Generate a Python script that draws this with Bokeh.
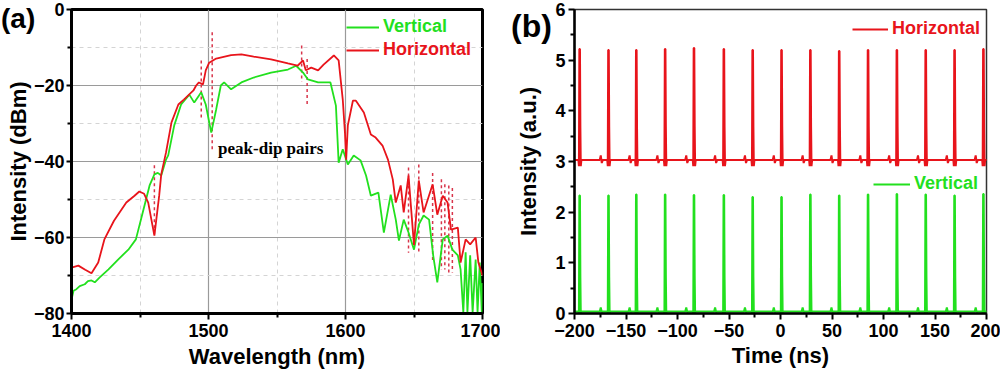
from bokeh.plotting import figure
from bokeh.layouts import row
from bokeh.models import FixedTicker, Label, Legend, LegendItem, Div
from bokeh.embed import file_html
from bokeh.resources import INLINE

RED = "#e8141b"
GREEN = "#22e01e"
MARK = "#d8344a"
FONT = "Liberation Sans"

# ---------------- panel (a) data: optical spectrum ----------------
wl_h = [1400, 1405, 1410, 1414.6, 1419.5, 1424, 1431, 1440, 1446, 1449.5, 1453, 1456, 1460.5, 1464,
        1465.5, 1469, 1473, 1478, 1482, 1489, 1491, 1493, 1496, 1498, 1500.5, 1505.6, 1516.5, 1524,
        1533, 1545.7, 1558, 1565, 1569, 1571, 1575, 1580, 1584, 1591.5, 1595, 1598, 1599.6, 1600.5,
        1601.7, 1605.4, 1607.6, 1613.4, 1618.5, 1622, 1627, 1631, 1634.5, 1636.7, 1640.3, 1642.5,
        1646, 1650, 1653.5, 1657, 1663.6, 1667, 1671, 1674.5, 1677, 1682, 1684, 1687.7, 1691, 1695,
        1697, 1700]
db_h = [-67.9, -67.4, -68.5, -69.4, -66.6, -60.5, -55.6, -50.8, -49, -47.9, -48.5, -50.8, -59.5, -49,
        -43.4, -37.6, -29.7, -25, -23.7, -21.3, -20, -19.2, -19.7, -16, -14, -12.9, -12, -11.8,
        -12.4, -13.1, -14.2, -14.8, -13.4, -16, -15.3, -16, -14.5, -12.1, -13.4, -23.7, -32.4, -39.5,
        -30.5, -24, -24, -27.1, -32.9, -33.7, -35.8, -39.5, -44.7, -50.8, -46.3, -53.4,
        -43.7, -62, -45, -53.4, -46, -54, -49, -50.8, -57.9, -57.4, -66.6, -60.5, -61.8, -60,
        -66.6, -70]

wl_v = [1400, 1401.5, 1403.6, 1406, 1409.7, 1412, 1414.6, 1417, 1420.6, 1427, 1434, 1441.5, 1447,
        1452, 1457, 1460.5, 1463, 1465.5, 1469, 1470.6, 1475, 1480, 1486, 1489.6, 1494.7, 1498,
        1502, 1505.6, 1509, 1511.4, 1516.5, 1524, 1533, 1545.7, 1558, 1564, 1569, 1572.6, 1580,
        1589, 1593, 1595, 1598, 1601.7, 1606, 1611, 1615, 1618.5, 1624, 1628, 1633, 1636.7, 1639,
        1642.5, 1646, 1650, 1653.5, 1657, 1661, 1664, 1667, 1671, 1674.5, 1678, 1682, 1684, 1686,
        1687.7, 1689, 1691, 1692.8, 1695, 1696.4, 1698, 1699.5, 1700]
db_v = [-76.3, -74, -73.6, -72.8, -72.3, -71.5, -71.3, -71.8, -70.5, -68.4, -65.8, -63.2, -60.5,
        -53.4, -46.3, -43.4, -43, -43.7, -39.5, -38.4, -30.5, -25, -22.4, -24.5, -21.8, -25,
        -32.4, -26.3, -20, -19.2, -21, -19.2, -17.9, -16.6, -15.8, -14.8, -16.6, -18.4, -19.2,
        -19.2, -25.3, -40.3, -36.8, -40.8, -38.4, -39.7, -43.7, -49, -48.2, -58.7, -48.7, -55.3, -60.8,
        -55.3, -58.7, -63.2, -56.6, -54.2, -55.3, -64.7, -71.8, -60.5, -59.5, -63.2, -64.7, -68.4, -79.7,
        -63.9, -79.7, -64.7, -79.7, -65.8, -79.7, -66.6, -79.7, -72]

# peak-dip pair markers (dashed)
mk_x = [1460.5, 1494.7, 1502.7, 1568, 1572, 1646, 1653.5, 1663.6, 1670, 1672.5, 1675.4, 1678]
mk_top = [-41, -13.4, -6, -9.5, -13, -41.6, -40.8, -43, -44.7, -46, -46.3, -47]
mk_bot = [-60, -28.9, -37, -19, -25, -64, -64, -66.6, -68.4, -68.4, -69.2, -69.2]

wl_ticks = [1400, 1500, 1600, 1700]
wl_minor = [1450, 1550, 1650]
db_ticks = [-80, -60, -40, -20, 0]
db_minor = [-70, -50, -30, -10]

# ---------------- panel (b) data: pulse trains ----------------
pulse_t = [-195, -167, -140, -112, -84, -55, -27, 1, 29, 57, 85, 113, 141, 169, 197]
peak_hz = [5.22, 5.20, 5.20, 5.22, 5.24, 5.22, 5.20, 5.20, 5.20, 5.18, 5.20, 5.20, 5.20, 5.20, 5.22]
peak_vt = [2.33, 2.33, 2.35, 2.35, 2.34, 2.34, 2.30, 2.30, 2.35, 2.33, 2.35, 2.36, 2.35, 2.33, 2.36]
base_hz, bump_hz, dip_hz = 3.03, 3.12, 0.12
base_vt, bump_vt, dip_vt = 0.04, 0.12, 0.03

t_ticks = [-200, -150, -100, -50, 0, 50, 100, 150, 200]
t_minor = [-175, -125, -75, -25, 25, 75, 125, 175]
i_ticks = [0, 1, 2, 3, 4, 5, 6]
i_minor = [0.5, 1.5, 2.5, 3.5, 4.5, 5.5]

H = 371
TOP = 9
BOTTOM = 58


def style_axis(ax, ticks, minor, lw=3):
    ax.ticker = FixedTicker(ticks=ticks, minor_ticks=minor)
    ax.axis_line_width = lw
    ax.axis_line_color = "black"
    ax.major_tick_line_width = 2
    ax.major_tick_line_color = "black"
    ax.major_tick_out = 6
    ax.major_tick_in = 0
    ax.minor_tick_line_width = 2
    ax.minor_tick_line_color = "black"
    ax.minor_tick_out = 4
    ax.minor_tick_in = 0
    ax.major_label_text_font = FONT
    ax.major_label_text_font_style = "bold"
    ax.major_label_text_font_size = "18px"
    ax.major_label_text_color = "black"
    ax.major_label_standoff = 3
    ax.axis_label_text_font = FONT
    ax.axis_label_text_font_style = "bold"
    ax.axis_label_text_font_size = "22px"
    ax.axis_label_text_color = "black"


def one_legend(renderer, label, color, loc, gw):
    return Legend(items=[LegendItem(label=label, renderers=[renderer])], location=loc,
                  glyph_width=gw, glyph_height=20, label_height=20, label_standoff=4,
                  label_text_font=FONT, label_text_font_style="bold", label_text_font_size="18px",
                  label_text_color=color, background_fill_alpha=0, border_line_alpha=0,
                  margin=0, padding=10)


def tag(text, left, top, size):
    return Div(text=text, width=45, height=36,
               styles={"position": "absolute", "left": f"{left}px", "top": f"{top}px",
                       "z-index": "10", "font-family": FONT, "font-size": size,
                       "font-weight": "bold", "color": "black", "line-height": "1"})


# ---------------- figure (a) ----------------
pa = figure(width=500, height=H, x_range=(1400, 1700), y_range=(-80, 0),
            output_backend="svg", toolbar_location=None,
            min_border_left=71, min_border_right=18, min_border_top=TOP, min_border_bottom=BOTTOM)
pa.outline_line_color = "black"
pa.outline_line_width = 3
pa.outline_line_alpha = 1
style_axis(pa.xaxis[0], wl_ticks, wl_minor)
style_axis(pa.yaxis[0], db_ticks, db_minor)
pa.yaxis.major_tick_out = 5
pa.yaxis.major_label_standoff = 2
pa.xaxis.major_label_standoff = 4
pa.xaxis.axis_label = "Wavelength (nm)"
pa.yaxis.axis_label = "Intensity (dBm)"
pa.xaxis.axis_label_standoff = 4
pa.yaxis.axis_label_standoff = 0
pa.xgrid.ticker = FixedTicker(ticks=wl_ticks, minor_ticks=wl_minor)
pa.ygrid.ticker = FixedTicker(ticks=db_ticks, minor_ticks=db_minor)
for g in (pa.xgrid[0], pa.ygrid[0]):
    g.grid_line_color = "#9a9a9a"
    g.grid_line_width = 1.2
    g.minor_grid_line_color = "#d4d4d4"
    g.minor_grid_line_dash = "4 4"
    g.minor_grid_line_width = 1

pa.segment(x0=mk_x, y0=mk_top, x1=mk_x, y1=mk_bot, line_color=MARK, line_width=1.5,
           line_dash="3 3")
rv = pa.line(wl_v, db_v, line_color=GREEN, line_width=1.8)
rh = pa.line(wl_h, db_h, line_color=RED, line_width=1.8)

pa.add_layout(one_legend(rv, "Vertical", GREEN, (265, 266), 33))
pa.add_layout(one_legend(rh, "Horizontal", RED, (265, 243), 33))

pa.add_layout(Label(x=1507, y=-36.7, text="peak-dip pairs", text_font="Liberation Serif",
                    text_font_style="bold", text_font_size="17px", text_align="left",
                    text_baseline="middle", text_color="black"))

# ---------------- figure (b) ----------------
def trace(times, peaks, base, bump, dip):
    xs, ys = [-200.0], [base]
    for t, pk in zip(times, peaks):
        xs += [t - 1.2, t - 0.7, t - 0.3, t + 0.3, t + 0.7, t + 1.1, t + 1.7, t + 2.5,
               t + 19.5, t + 20.5, t + 21.5, t + 22.5]
        ys += [base, base - dip, pk, pk, base + (pk - base) * 0.3, base - dip, base, base,
               base, bump, base - dip * 0.5, base]
    xs.append(200.0)
    ys.append(base)
    return xs, ys


pb = figure(width=500, height=H, x_range=(-200, 200), y_range=(0, 6),
            output_backend="svg", toolbar_location=None,
            min_border_left=74, min_border_right=14, min_border_top=TOP, min_border_bottom=BOTTOM)
pb.outline_line_color = "#333333"
pb.outline_line_width = 1.5
pb.xgrid.visible = False
pb.ygrid.visible = False
style_axis(pb.xaxis[0], t_ticks, t_minor, lw=2.5)
style_axis(pb.yaxis[0], i_ticks, i_minor, lw=2.5)
pb.xaxis.axis_label = "Time (ns)"
pb.yaxis.axis_label = "Intensity (a.u.)"
pb.xaxis.major_label_standoff = 4
pb.xaxis.axis_label_standoff = 3
pb.yaxis.axis_label_standoff = 11

xh, yh = trace(pulse_t, peak_hz, base_hz, bump_hz, dip_hz)
xv, yv = trace(pulse_t, peak_vt, base_vt, bump_vt, dip_vt)
lh = pb.line(xh, yh, line_color=RED, line_width=2)
lv = pb.line(xv, yv, line_color=GREEN, line_width=2)

pb.add_layout(one_legend(lh, "Horizontal", RED, (268, 264), 36))
pb.add_layout(one_legend(lv, "Vertical", GREEN, (289, 109), 37))

layout = row(pa, pb, tag("(a)", -4, 0, "28px"), tag("(b)", 506, 5, "32px"))
open("out.html", "w").write(file_html(layout, INLINE))
